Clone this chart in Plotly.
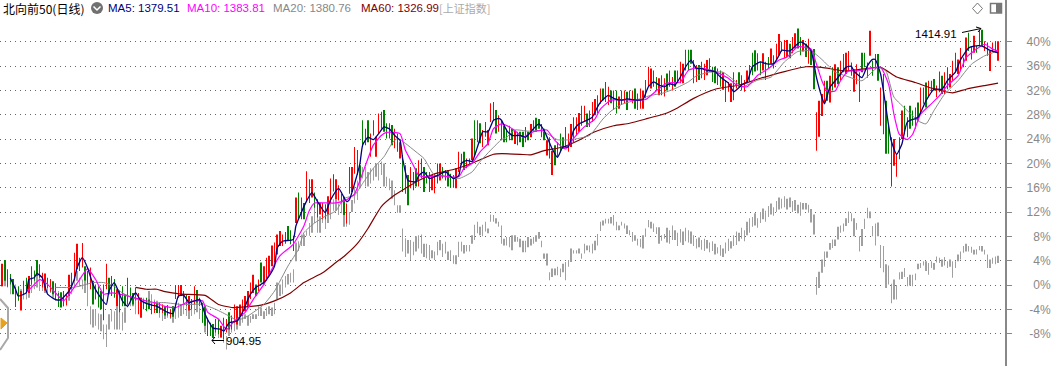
import plotly.graph_objects as go

# Daily bars of the main index, in percent
main_hi = [
3.5,4.1,2.6,1.8,1.0,-0.4,-0.2,-1.0,0.7,1.2,
1.5,3.1,2.4,4.1,3.4,2.0,1.9,1.2,1.0,0.6,
0.3,-1.3,-1.2,-1.0,-1.5,1.7,2.0,5.3,6.8,4.5,
6.9,3.1,2.3,2.9,0.7,0.1,-0.2,-1.0,0.1,3.5,
1.2,1.5,1.0,-0.7,-1.0,-0.2,-1.5,1.2,-0.4,-1.3,
-0.4,-1.3,-2.1,-2.4,-2.1,-2.4,-3.0,-2.7,-3.0,-2.9,
-3.2,-3.5,-3.3,-4.0,-3.5,0.0,0.0,0.0,-1.0,-1.5,
-1.8,-2.3,-0.2,-0.8,-2.1,-2.9,-3.5,-5.4,-6.2,-6.4,
-5.6,-5.6,-6.7,-5.4,-5.6,-4.5,-5.0,-3.2,-3.5,-3.2,
-2.4,-1.8,-1.0,0.4,1.7,0.1,0.9,3.7,3.1,4.5,
4.8,6.5,7.0,8.3,8.9,8.3,8.7,9.7,9.0,8.1,
14.4,15.2,14.4,13.5,18.7,17.4,17.4,15.2,14.1,13.5,
13.5,13.3,14.6,17.5,18.2,17.4,16.4,15.0,14.5,13.4,
19.4,19.4,22.7,22.2,19.7,27.1,25.7,27.1,24.9,27.1,
24.4,28.2,28.5,28.8,26.6,26.6,26.3,25.7,24.9,23.5,
21.4,19.7,18.1,19.4,18.6,19.2,20.5,20.8,19.4,18.6,
18.6,18.1,18.3,20.0,20.0,19.4,18.9,18.9,18.3,18.1,
19.2,21.9,21.6,21.9,20.8,20.8,24.1,27.1,27.1,26.6,
25.5,26.8,25.5,29.9,30.1,28.8,27.9,27.1,26.2,25.7,
26.2,25.7,25.4,25.2,25.2,25.2,26.0,25.2,26.5,27.1,
27.5,27.3,26.5,25.7,23.8,24.3,22.1,23.0,23.5,24.9,
24.3,26.0,24.9,26.5,27.6,27.6,28.3,29.5,29.5,28.2,
28.7,30.1,30.6,31.2,32.3,32.3,33.4,32.6,32.0,32.0,
32.0,31.0,32.0,32.0,31.8,32.0,32.0,32.3,31.5,32.3,
32.0,33.7,35.9,35.6,35.3,34.2,34.0,34.5,34.0,34.8,
35.3,34.2,35.3,35.3,36.7,36.4,38.7,38.7,38.7,37.0,
36.2,36.2,36.7,36.4,37.0,37.3,35.9,35.9,35.6,35.3,
35.0,33.7,33.4,33.2,35.0,33.7,35.0,34.5,33.7,35.3,
36.2,38.2,38.6,38.1,36.7,38.1,36.7,37.5,38.9,37.8,
39.7,41.3,40.0,40.3,40.3,39.7,40.8,41.4,42.2,40.8,
40.3,39.7,40.5,38.6,38.8,28.4,30.3,31.4,33.6,33.6,
34.4,35.8,36.3,35.8,36.9,38.0,38.2,38.5,36.6,35.5,
36.3,35.0,38.2,38.2,36.6,41.8,36.9,38.0,38.0,32.5,
34.7,30.3,26.5,24.3,24.0,21.6,24.3,28.7,29.5,27.6,
29.5,28.7,29.2,30.0,32.5,32.5,33.3,33.6,33.6,33.9,
32.8,35.1,34.4,35.0,35.8,34.7,36.9,38.2,37.1,39.0,
37.4,40.7,41.5,39.3,41.0,39.3,42.0,42.0,40.1,39.9,
38.5,39.9,40.1,40.1,
]
main_lo = [
-0.2,0.7,-0.3,0.1,-1.5,-3.6,-2.6,-4.2,-1.6,-1.3,
-1.3,0.1,0.7,1.5,1.2,-0.4,-0.9,-0.5,-1.1,-1.5,
-2.4,-3.6,-3.7,-3.5,-3.3,-1.8,-0.6,0.7,2.6,2.3,
2.9,0.7,0.1,-0.7,-3.2,-2.4,-3.7,-4.0,-5.8,-0.7,
-1.5,-1.8,-2.1,-3.5,-4.5,-3.5,-3.5,-3.2,-2.6,-3.2,
-2.6,-4.8,-5.4,-4.0,-4.3,-4.0,-4.8,-4.6,-4.6,-4.6,
-4.6,-5.0,-5.0,-5.4,-5.2,-2.3,-2.1,-1.8,-2.9,-3.4,
-4.2,-4.0,-3.2,-2.9,-3.5,-6.2,-6.7,-8.4,-8.4,-8.7,
-7.8,-8.1,-8.6,-8.9,-7.8,-7.3,-7.3,-6.2,-6.5,-5.1,
-5.1,-4.3,-3.7,-2.3,-1.3,-1.8,-1.0,0.4,0.1,0.7,
1.5,3.1,3.7,5.0,6.4,6.4,6.8,7.3,6.7,5.6,
10.2,10.8,10.8,10.8,13.8,13.5,14.4,12.7,11.1,11.6,
10.8,10.8,11.6,13.5,15.4,14.1,13.9,13.4,11.5,10.1,
15.0,15.3,18.3,18.1,17.2,22.7,23.0,23.5,21.1,24.6,
21.1,24.9,25.7,25.2,24.1,24.1,23.0,22.5,21.9,20.8,
15.3,15.0,13.1,15.9,15.6,16.2,16.2,17.5,15.3,16.7,
15.3,15.6,15.1,16.7,17.2,17.5,17.2,16.2,16.0,16.0,
15.9,18.6,19.7,18.9,19.2,19.7,20.5,21.1,23.5,23.3,
22.7,24.4,23.0,26.8,27.1,24.9,25.2,23.8,23.5,23.5,
23.8,23.8,23.2,23.0,23.5,22.7,23.5,23.8,24.3,25.2,
25.2,25.7,24.3,23.8,21.3,20.8,18.1,19.7,21.0,21.9,
22.4,22.7,21.9,22.7,23.5,24.6,25.2,26.2,26.8,26.0,
26.0,26.8,27.9,28.2,29.8,30.4,30.1,29.6,29.9,28.8,
28.2,29.0,29.6,29.9,28.8,30.4,29.9,29.0,28.8,29.0,
29.0,30.7,32.6,32.3,32.6,32.0,31.2,31.2,31.0,32.0,
32.6,32.0,32.6,33.2,33.2,33.2,35.3,35.3,36.4,33.2,
33.4,33.7,34.0,33.7,34.5,35.1,33.4,33.2,32.9,32.6,
32.1,30.1,31.8,30.1,30.4,32.3,32.6,32.0,31.8,33.2,
33.4,34.5,35.1,35.3,34.5,35.3,33.7,35.6,36.4,35.6,
37.0,37.8,38.4,37.3,37.5,37.3,38.1,38.9,38.9,37.8,
38.4,37.5,36.4,36.2,32.2,22.1,24.4,27.8,29.8,30.3,
30.0,32.0,32.5,33.0,33.6,35.0,34.7,35.2,34.4,31.8,
33.0,30.1,35.0,35.8,34.1,37.7,34.4,35.5,33.6,26.2,
24.8,21.6,21.6,16.2,19.6,17.8,20.7,24.0,24.8,24.3,
25.7,26.2,25.7,27.0,28.1,29.8,29.2,30.9,31.7,32.0,
30.9,31.7,31.4,31.4,32.2,32.5,33.6,35.0,34.7,35.2,
35.8,36.9,38.5,37.1,38.2,38.2,39.3,39.3,38.5,37.7,
35.2,38.5,38.2,36.9,
]
main_dir = (
"RGRGGRGRRG" "RRGGGRRGRG" "RGGGRRRRRG" "RGGRGGGGRR" "GRGRRGGRGG"
"GRRGGGRRGG" "RGGRGRRRGG" "RRRGGGGRGG" "GGRRRGGRRR" "RRRRRGRGRR"
"RRRRRRGGGR" "RGRGRRRGGR" "RGRRGRRGGR" "RRRRGGRGRG" "RRRGGRGRRR"
"GRGRRGRRGG" "GRRGRGGGGR" "RRGGRRRGRG" "RGRRRGRGGG" "GGRGGGGGRR"
"GGRGRGRGGG" "GGRRRRRRRG" "GRRRRGGRGR" "GRRRGGRGRR" "RRRRGGRGRG"
"GRGGRRRGGR" "RGGRRRGGRG" "RGRRGRGRRR" "RGGRGRRGRR" "RRGRRGRRGG"
"RGRGGRRRRG" "RGRGRGRRRR" "RGGGRRGRGR" "RGGGRRRRGR" "GGRGRRGRRG"
"RRGRGRRRRR" "RRGRRGRGRR" "RRGR"
)

# Comparison index bars, in percent
index_hi = [
2.6,2.0,1.8,0.7,0.9,0.1,-0.7,-0.7,0.1,-0.2,
0.1,0.7,0.9,1.5,1.5,0.9,1.2,0.1,0.4,-0.2,
-0.4,-1.0,-1.3,-1.5,-1.5,-0.7,0.1,1.8,2.3,1.2,
0.9,0.7,0.7,-3.5,-4.0,-4.0,-4.7,-4.8,-6.5,-6.5,
-4.8,-4.0,-4.3,-3.5,-4.0,-4.5,-3.7,-1.8,-2.1,-1.8,
-2.6,-3.2,-2.1,-2.1,-2.4,-1.0,-1.5,-2.4,-2.6,-2.9,
-3.2,-4.0,-3.5,-4.0,-3.5,-2.9,-2.9,-3.2,-2.4,-2.6,
-2.4,-2.9,-2.9,-2.9,-3.7,-4.3,-5.4,-5.6,-7.0,-7.3,
-7.0,-7.3,-7.6,-7.8,-8.4,-6.7,-5.6,-6.2,-5.6,-5.4,
-5.1,-4.8,-5.1,-5.1,-4.8,-4.8,-3.5,-3.7,-4.3,-3.7,
-3.5,-3.7,-2.9,0.4,0.1,0.9,1.5,1.8,2.0,2.6,
7.0,7.2,8.3,8.3,8.9,10.2,11.3,13.0,11.9,11.3,
12.4,11.9,11.9,13.5,14.1,14.1,13.4,13.4,12.9,12.3,
12.0,14.0,16.2,17.2,18.9,19.4,19.4,18.6,19.2,19.2,
20.0,20.0,20.3,20.0,17.8,17.5,17.2,15.6,13.1,13.1,
9.3,7.7,7.4,7.4,7.1,8.0,8.2,8.3,6.8,6.8,
6.6,5.7,5.5,7.1,7.4,6.8,7.1,5.5,5.7,4.9,
4.9,7.1,7.1,6.6,6.6,6.6,8.2,9.9,10.4,9.6,
9.9,10.4,9.3,11.6,11.5,11.0,10.4,9.8,7.6,7.9,
7.9,8.2,8.2,7.9,7.6,7.3,7.3,7.9,7.6,7.9,
8.2,8.7,7.3,5.2,5.2,2.1,2.7,2.7,3.0,2.7,
3.5,3.8,4.1,6.0,5.7,5.7,6.0,5.2,6.8,6.5,
6.5,6.8,7.3,8.4,10.4,10.6,10.9,10.9,11.2,11.5,
10.4,9.8,10.4,10.1,9.8,9.0,8.7,8.2,7.6,7.6,
8.2,9.3,10.7,10.4,10.1,9.5,9.5,8.2,8.4,9.4,
9.0,9.8,9.0,8.6,9.2,8.8,9.4,9.0,8.8,8.2,
7.6,7.8,7.4,7.6,7.4,7.0,7.2,6.8,6.2,6.6,
6.0,7.0,7.6,7.2,8.2,8.8,8.6,9.4,9.0,10.4,
11.0,11.2,11.8,11.0,12.0,12.6,12.2,13.0,13.4,12.8,
13.8,14.4,14.2,14.6,14.2,14.4,13.8,14.0,13.2,13.6,
13.5,13.5,13.2,12.5,11.6,1.3,2.2,4.2,5.5,5.5,
6.9,7.5,7.5,9.6,9.8,10.1,11.0,12.1,11.8,11.0,
10.2,8.0,9.2,10.9,12.7,12.1,9.7,10.1,10.3,6.6,
6.4,3.4,3.2,0.2,0.9,0.0,2.1,2.2,2.8,1.3,
1.7,1.7,1.9,3.5,3.6,3.9,3.9,3.6,3.9,3.6,
4.7,4.5,4.2,4.6,3.9,4.2,3.9,3.9,5.0,5.5,
6.4,6.8,6.4,6.3,5.8,5.9,6.4,6.4,5.8,5.0,
4.2,4.5,4.7,4.8,
]
index_lo = [
-0.2,-0.2,-0.4,-1.5,-0.7,-2.1,-2.1,-2.6,-2.4,-2.4,
-2.1,-1.3,-0.7,-0.4,-1.0,-1.0,-1.3,-1.3,-1.3,-2.1,
-2.6,-2.9,-3.5,-3.5,-3.5,-2.6,-1.5,-0.4,0.7,-0.2,
-0.7,-1.3,-3.5,-6.5,-7.0,-6.7,-7.3,-7.6,-8.9,-10.2,
-7.3,-6.0,-7.3,-7.3,-7.3,-7.5,-6.2,-3.7,-3.5,-3.5,
-4.8,-4.5,-4.3,-3.5,-4.0,-3.5,-4.0,-4.5,-4.5,-5.4,
-5.9,-5.6,-5.4,-5.6,-6.2,-5.6,-5.4,-5.1,-4.8,-5.1,
-5.6,-5.1,-4.8,-4.5,-5.6,-6.2,-7.8,-8.4,-8.4,-8.4,
-8.4,-8.7,-8.7,-9.5,-10.6,-8.4,-7.8,-7.6,-7.3,-6.7,
-6.2,-5.6,-6.7,-6.2,-5.6,-5.6,-5.1,-5.1,-5.6,-5.1,
-4.8,-5.1,-4.8,-2.4,-1.8,-1.5,-0.4,0.1,0.4,0.4,
3.9,5.6,6.4,6.4,8.1,8.1,8.6,10.2,8.6,8.6,
10.2,9.2,10.2,10.8,12.2,12.2,11.5,11.8,9.6,9.6,
9.9,12.0,13.4,14.0,15.9,17.5,16.2,16.2,16.7,17.2,
17.8,17.2,18.1,16.2,16.2,15.6,14.2,13.1,11.9,11.9,
5.5,4.6,5.2,4.1,4.9,5.5,6.0,5.2,4.6,4.4,
4.1,4.4,4.1,4.9,5.7,4.6,5.2,4.1,4.1,3.5,
3.4,4.6,5.5,5.2,5.5,5.5,6.8,7.4,8.5,8.2,
8.0,8.8,8.5,10.4,10.4,10.1,9.6,6.8,6.5,6.5,
6.2,5.7,7.1,7.1,6.2,5.4,5.4,6.2,6.5,6.8,
7.1,7.6,6.2,4.3,3.2,0.8,1.3,1.6,1.6,1.3,
2.1,0.8,3.0,3.8,5.2,5.2,5.2,4.3,5.2,5.7,
5.4,5.2,5.7,6.5,8.9,9.8,10.1,10.1,10.1,9.8,
9.0,9.0,9.8,9.3,8.4,8.2,7.1,7.3,6.5,6.2,
6.0,7.9,9.5,9.3,8.7,8.4,6.8,7.3,7.6,7.0,
6.8,7.4,7.4,6.4,7.0,6.6,7.2,7.0,6.8,6.4,
6.0,6.2,5.8,5.6,6.0,5.4,5.6,5.0,5.2,4.8,
4.6,5.2,5.6,6.0,6.4,6.6,7.2,7.6,7.2,8.2,
8.6,9.6,9.8,9.4,10.2,10.8,10.4,11.2,11.6,11.4,
12.0,12.4,12.6,12.8,12.4,12.8,12.0,12.2,11.8,11.4,
12.4,12.4,11.9,10.3,8.3,-1.6,-0.5,2.0,3.0,4.5,
5.8,6.1,6.4,7.5,8.6,8.8,9.7,10.2,10.5,8.0,
9.1,5.5,6.4,9.2,11.0,11.0,8.0,6.5,8.0,2.8,
2.1,-0.5,0.1,-3.0,-2.4,-2.4,0.9,1.0,1.3,-0.2,
-0.1,-0.2,0.8,2.6,2.8,3.2,2.3,1.7,2.8,2.5,
3.7,3.6,3.0,3.2,2.8,3.0,1.2,2.8,3.9,4.2,
5.3,5.5,5.5,5.3,5.0,5.0,5.7,5.5,5.0,2.8,
2.8,3.5,3.4,3.6,
]

# Moving averages, read at the bars where the lines turn
ma5_i = [3,5,6,9,10,12,13,15,17,20,22,25,27,28,30,32,34,36,39,40,42,45,47,49,50,52,55,58,60,62,64,66,68,70,72,74,76,78,79,82,83,85,88,90,92,93,95,98,100,102,103,105,109,110,112,114,116,118,121,123,126,129,130,132,134,135,137,139,141,143,145,147,149,150,152,155,156,158,160,163,166,169,171,172,174,176,178,180,182,184,186,187,189,191,194,196,199,201,203,206,208,210,212,214,216,219,221,223,224,227,229,232,234,238,240,242,244,246,248,250,252,254,256,258,260,262,264,267,269,272,274,277,279,281,284,286,289,291,292,295,297,299,301,303,305,307,308,310,313,316,318,319,322,324,326,327,329,331,333,335,337,339,343,346,349,352,354,357,359,362,364,367,370,373]
ma5_v = [1.2,-0.7,-1.8,-1.3,0.9,1.2,1.9,1.2,-1.5,-2.4,-2.4,-1.0,0.9,2.8,4.5,2.8,0.1,-1.5,-3.2,-1.0,0.4,-2.6,-3.5,-1.8,-1.3,-2.6,-3.2,-3.5,-4.0,-4.5,-4.7,-1.8,-1.7,-2.9,-2.6,-2.4,-4.8,-6.5,-7.1,-7.3,-7.6,-6.2,-5.9,-4.5,-2.4,-1.5,-0.4,0.4,1.5,3.1,6.1,7.2,7.5,9.7,11.9,13.8,15.2,13.8,11.9,14.0,15.9,13.7,14.0,16.7,20.0,23.0,24.3,23.9,24.9,26.0,25.7,24.6,23.8,20.8,17.2,17.0,18.0,18.6,17.5,18.0,18.6,17.5,18.0,20.0,20.5,20.3,22.7,25.2,25.2,27.1,27.4,27.1,25.4,24.6,24.6,24.3,25.7,26.5,25.4,22.4,21.0,22.7,22.7,25.4,26.5,27.1,27.6,29.3,30.0,31.2,30.7,30.4,30.6,30.4,30.5,32.6,33.4,32.9,32.6,33.1,32.9,34.2,35.9,37.0,35.6,35.6,35.3,35.1,34.2,33.2,31.8,32.9,33.4,35.9,36.7,36.4,36.4,37.8,38.6,38.5,39.3,40.0,39.5,38.5,34.1,30.9,29.8,32.5,34.1,35.8,36.0,35.2,34.1,36.0,37.1,37.1,34.7,29.2,23.7,21.5,23.2,26.8,27.6,30.3,32.2,32.2,33.6,35.0,37.1,39.0,39.3,39.3,38.6,38.2]
ma10_i = [9,11,14,17,20,23,26,29,32,35,38,41,44,47,52,57,61,65,69,72,75,77,81,84,87,91,94,98,101,104,109,113,115,117,121,125,129,132,134,137,139,142,144,149,151,154,156,160,163,167,171,173,176,179,182,184,187,190,192,195,199,204,207,211,214,218,222,224,228,232,237,241,246,249,254,257,260,263,267,272,275,279,283,287,291,294,298,303,305,307,309,312,314,317,320,324,329,332,334,336,339,341,344,348,351,354,358,361,364,368,371,373]
ma10_v = [-1.1,-0.4,0.9,0.1,-1.3,-2.6,-1.0,0.9,2.7,0.9,-1.5,-1.3,-1.5,-1.8,-2.4,-2.9,-3.5,-3.7,-2.9,-2.6,-2.6,-4.5,-5.6,-7.3,-5.9,-4.5,-2.4,0.1,2.6,4.8,6.7,9.7,12.2,13.5,13.5,13.5,14.0,15.0,17.2,20.8,23.0,24.6,25.1,24.9,22.2,19.7,18.0,17.8,18.0,17.8,17.8,19.2,20.0,21.9,23.3,25.7,26.5,26.0,25.4,24.3,25.2,25.5,23.8,22.4,24.1,26.0,27.3,28.9,30.4,30.5,30.4,30.5,32.3,33.2,33.4,35.3,35.7,35.6,35.1,34.0,32.9,32.6,34.5,35.6,37.0,37.5,39.2,38.8,36.3,33.6,31.9,31.9,33.6,35.2,35.2,35.5,35.8,33.0,28.1,24.8,23.9,24.8,28.1,29.8,31.1,32.8,34.4,37.4,38.5,39.6,38.8,38.5]
ma20_i = [20,26,29,34,38,42,45,49,54,61,67,75,80,85,88,92,98,102,107,111,113,117,121,125,128,132,135,139,143,146,148,151,155,158,162,165,171,176,179,183,187,189,192,197,202,208,213,220,225,228,232,238,243,247,252,257,260,265,270,274,277,283,288,293,298,303,307,312,316,322,328,331,334,339,343,346,349,353,358,363,368,373]
ma20_v = [-0.4,-0.4,-0.2,0.4,0.4,-0.2,-1.3,-2.1,-2.9,-2.9,-3.2,-3.2,-4.0,-5.1,-5.8,-5.1,-3.2,-1.0,3.1,5.9,8.6,10.2,11.3,12.2,14.2,14.8,16.7,19.2,21.1,23.3,24.1,23.3,21.9,20.8,18.0,18.0,17.5,18.6,20.3,22.2,23.9,24.3,25.5,25.3,25.4,23.9,23.9,24.6,27.3,28.6,29.7,30.5,31.2,31.5,32.3,33.4,34.4,35.0,35.0,33.7,32.6,33.7,34.2,36.7,38.4,38.5,37.1,35.0,34.4,33.6,35.8,35.2,30.9,28.7,27.0,26.5,28.7,31.4,33.6,36.3,37.7,38.5]
ma60_i = [50,54,58,61,67,76,81,86,91,97,102,108,113,120,125,128,133,137,142,147,151,156,162,169,174,179,184,187,194,198,203,210,216,222,229,235,241,249,252,259,267,276,284,293,301,307,316,329,335,342,348,356,361,368,373]
ma60_v = [-0.4,-0.7,-0.7,-1.1,-1.5,-1.7,-3.2,-3.7,-3.6,-3.3,-2.6,-1.3,0.4,2.0,3.7,4.7,6.8,9.3,12.9,14.8,15.9,17.2,18.3,19.0,19.7,20.6,21.5,21.6,21.5,21.4,22.1,22.7,23.8,25.2,26.2,26.6,27.3,28.3,28.9,30.7,32.2,32.9,34.0,35.1,35.9,35.8,35.2,35.8,34.2,33.3,32.4,31.6,32.2,32.8,33.2]

tick_vals = [40, 36, 32, 28, 24, 20, 16, 12, 8, 4, 0, -4, -8]
tick_text = ["40%", "36%", "32%", "28%", "24%", "20%", "16%", "12%", "8%", "4%", "0%", "-4%", "-8%"]

assert len(main_hi) == len(main_lo) == len(main_dir) == len(index_hi) == len(index_lo), (
    len(main_hi), len(main_lo), len(main_dir), len(index_hi), len(index_lo))
bars = list(range(len(main_hi)))
W, H = 1055, 366
plot_right = 1005
y_range = [-13.32, 46.875]
x_range = [-0.82, 375.6]
RED, GREEN, GREY = "#ff0000", "#008000", "#a0a0a0"


def px(x):
    return x / W


def py(y):
    return 1 - y / H


fig = go.Figure()
fig.add_bar(x=bars, base=index_lo, y=[h - l for h, l in zip(index_hi, index_lo)],
            marker=dict(color=GREY, line_width=0), width=0.15, hoverinfo="skip", showlegend=False)
fig.add_bar(x=bars, base=main_lo, y=[h - l for h, l in zip(main_hi, main_lo)],
            marker=dict(color=[RED if d == "R" else GREEN for d in main_dir], line_width=0),
            width=0.15, hoverinfo="skip", showlegend=False)
for xs, ys, color, lw in [
    (ma60_i, ma60_v, "#800000", 1.2),
    (ma20_i, ma20_v, "#888888", 1.0),
    (ma10_i, ma10_v, "#ff00ff", 1.2),
    (ma5_i, ma5_v, "#000080", 1.3),
]:
    fig.add_scatter(x=xs, y=ys, yaxis="y2", mode="lines", hoverinfo="skip", showlegend=False,
                    line=dict(color=color, width=lw, shape="spline", smoothing=0.5))

annotations = []


def label(x, y, text, color="#000000", size=11.5, family="Liberation Sans", anchor="left"):
    annotations.append(dict(xref="paper", yref="paper", x=px(x), y=py(y), text=text, showarrow=False,
                            xanchor=anchor, yanchor="middle", borderpad=0,
                            font=dict(color=color, size=size, family=family)))


label(2, 8, "北向前50(日线)", size=12, family="Noto Sans CJK SC, Liberation Sans")
label(107, 8, "MA5: 1379.51", "#000080")
label(186, 8, "MA10: 1383.81", "#ff00ff")
label(272, 8, "MA20: 1380.76", "#888888")
label(360, 8, "MA60: 1326.99", "#800000")
label(438, 8, "[上证指数]", "#aaaaaa", size=11, family="Noto Sans CJK SC, Liberation Sans")
label(958, 34, "1414.91", anchor="right")
label(225, 341, "904.95")


def path(points, close=False):
    d = " ".join(("M" if i == 0 else "L") + f"{px(x):.5f},{py(y):.5f}" for i, (x, y) in enumerate(points))
    return d + (" Z" if close else "")


def shape(points, close=False, line="#000000", fill=None, width=1):
    s = dict(type="path", xref="paper", yref="paper", path=path(points, close),
             line=dict(color=line, width=width))
    if fill:
        s["fillcolor"] = fill
    return s


shapes = [
    dict(type="circle", xref="paper", yref="paper", x0=px(91), x1=px(103), y0=py(14), y1=py(2),
         fillcolor="#707070", line=dict(width=0)),
    shape([(93.5, 6.5), (97, 10), (100.5, 6.5)], line="#ffffff", width=1.5),
    shape([(977.5, 3), (982.5, 8.5), (977.5, 14), (972.5, 8.5)], True, line="#777777"),
    dict(type="rect", xref="paper", yref="paper", x0=px(990.5), x1=px(1001.5), y0=py(13), y1=py(3.5),
         line=dict(color="#777777", width=1.5)),
    dict(type="rect", xref="paper", yref="paper", x0=px(996), x1=px(1001), y0=py(13), y1=py(4),
         fillcolor="#777777", line=dict(width=0)),
    shape([(0, 299), (8, 308), (8, 338), (0, 350)], line="#a8a8a8", width=2),
    shape([(1, 318), (7, 323), (1, 329)], True, line="#e8a020", fill="#e8a020"),
    shape([(962, 32.5), (981, 28.5)]),
    shape([(976, 27), (981, 28.5), (978, 32)]),
    shape([(224, 340.5), (212, 340.5)]),
    shape([(215, 337), (212, 340.5), (215, 344)]),
]

fig.update_layout(
    width=W, height=H, margin=dict(l=0, r=0, t=0, b=0),
    paper_bgcolor="#ffffff", plot_bgcolor="#ffffff", barmode="overlay", showlegend=False,
    xaxis=dict(domain=[0, plot_right / W], range=x_range, visible=False, fixedrange=True),
    yaxis=dict(range=y_range, anchor="free", position=1, side="left", tickmode="array",
               tickvals=tick_vals, ticktext=tick_text, ticks="outside", ticklen=2,
               tickcolor="rgba(0,0,0,0)", showline=False, zeroline=False,
               showgrid=True, gridcolor="#666666", gridwidth=1, griddash="1px,4px",
               tickfont=dict(family="Liberation Sans", size=12, color="#888888"), fixedrange=True),
    yaxis2=dict(range=y_range, overlaying="y", anchor="free", position=(plot_right + 0.5) / W, side="right",
                tickmode="array", tickvals=tick_vals, showticklabels=False, ticks="outside", ticklen=5,
                tickcolor="#888888", tickwidth=1, showline=True, linecolor="#888888", linewidth=2,
                showgrid=False, zeroline=False, fixedrange=True),
    annotations=annotations, shapes=shapes,
)
fig.write_html("out.html", config={"displayModeBar": False},
               post_script="document.body.style.margin='0';document.body.style.overflow='hidden';")
